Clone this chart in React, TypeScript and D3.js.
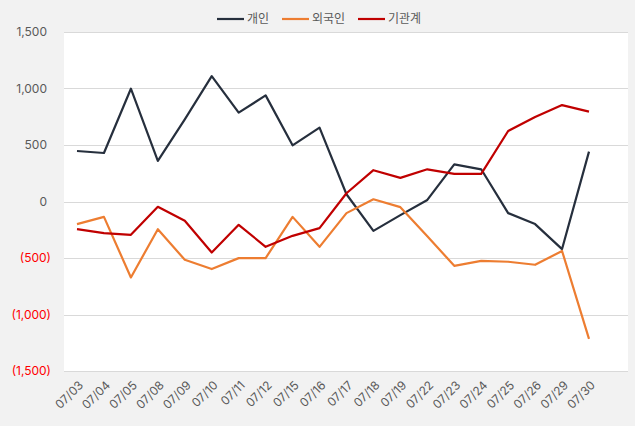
import { useEffect, useRef } from "react";
import * as d3 from "d3";

const dates = [
  "07/03", "07/04", "07/05", "07/08", "07/09", "07/10", "07/11", "07/12", "07/15", "07/16",
  "07/17", "07/18", "07/19", "07/22", "07/23", "07/24", "07/25", "07/26", "07/29", "07/30",
];
const individual = [447, 429, 998, 359, 727, 1110, 786, 939, 497, 654, 64, -260, -121, 14, 329, 285, -103, -200, -421, 441];
const foreign = [-200, -136, -672, -245, -516, -598, -501, -501, -136, -401, -103, 20, -50, -308, -569, -525, -533, -560, -438, -1216];
const institution = [-245, -280, -295, -47, -171, -451, -206, -401, -304, -236, 73, 277, 209, 285, 244, 244, 624, 747, 853, 795];
const yTicks = [1500, 1000, 500, 0, -500, -1000, -1500];

const seriesList = [
  { name: "개인", values: individual, color: "#262f3d" },
  { name: "외국인", values: foreign, color: "#ed7d31" },
  { name: "기관계", values: institution, color: "#c00000" },
];

const W = 635;
const H = 426;
const plot = { left: 64, right: 628, top: 32, bottom: 371 };
const FONT = "Inter, 'Noto Sans CJK KR', sans-serif";

export default function App() {
  const svgRef = useRef<SVGSVGElement>(null);

  useEffect(() => {
    if (!svgRef.current) return;
    const svg = d3.select(svgRef.current);
    svg.selectAll("*").remove();

    const x = d3.scalePoint<string>().domain(dates).range([77, 589]);
    const y = d3.scaleLinear().domain([-1500, 1500]).range([plot.bottom, plot.top]);

    svg.append("rect").attr("width", W).attr("height", H).attr("fill", "#f2f2f2");
    svg.append("rect")
      .attr("x", plot.left)
      .attr("y", plot.top)
      .attr("width", plot.right - plot.left)
      .attr("height", plot.bottom - plot.top)
      .attr("fill", "#ffffff");

    // Grid
    svg.append("g")
      .selectAll("line")
      .data(yTicks)
      .join("line")
      .attr("x1", plot.left)
      .attr("x2", plot.right)
      .attr("y1", d => Math.round(y(d)) + 0.5)
      .attr("y2", d => Math.round(y(d)) + 0.5)
      .attr("stroke", "#d9d9d9")
      .attr("stroke-width", 1);

    // Y labels
    svg.append("g")
      .selectAll("text")
      .data(yTicks)
      .join("text")
      .attr("x", d => (d < 0 ? 51 : 47))
      .attr("y", d => y(d))
      .attr("dy", "0.35em")
      .attr("text-anchor", "end")
      .attr("font-family", FONT)
      .attr("font-size", 12)
      .attr("fill", d => (d < 0 ? "#ff0000" : "#595959"))
      .text(d => (d < 0 ? `(${d3.format(",")(-d)})` : d3.format(",")(d)));

    // X labels
    svg.append("g")
      .selectAll("text")
      .data(dates)
      .join("text")
      .attr("transform", d => `translate(${(x(d) ?? 0) + 4},${plot.bottom + 12}) rotate(-45)`)
      .attr("text-anchor", "end")
      .attr("dy", "0.35em")
      .attr("font-family", FONT)
      .attr("font-size", 12)
      .attr("fill", "#595959")
      .text(d => d);

    // Lines
    const line = d3.line<number>()
      .x((_, i) => x(dates[i]) ?? 0)
      .y(d => y(d));

    svg.append("g")
      .selectAll("path")
      .data(seriesList)
      .join("path")
      .attr("d", d => line(d.values))
      .attr("fill", "none")
      .attr("stroke", d => d.color)
      .attr("stroke-width", 2.2)
      .attr("stroke-linejoin", "round");

    // Legend
    const legendX = [217, 282, 358];
    const lg = svg.append("g")
      .selectAll("g")
      .data(seriesList)
      .join("g")
      .attr("transform", (_, i) => `translate(${legendX[i]},19)`);
    lg.append("line")
      .attr("x1", 0)
      .attr("x2", 27)
      .attr("stroke", d => d.color)
      .attr("stroke-width", 2.2);
    lg.append("text")
      .attr("x", 30)
      .attr("dy", "0.35em")
      .attr("font-family", FONT)
      .attr("font-size", 12)
      .attr("fill", "#595959")
      .text(d => d.name);
  }, []);

  return (
    <svg
      ref={svgRef}
      width={W}
      height={H}
      style={{ position: "absolute", left: 0, top: 0 }}
    />
  );
}
